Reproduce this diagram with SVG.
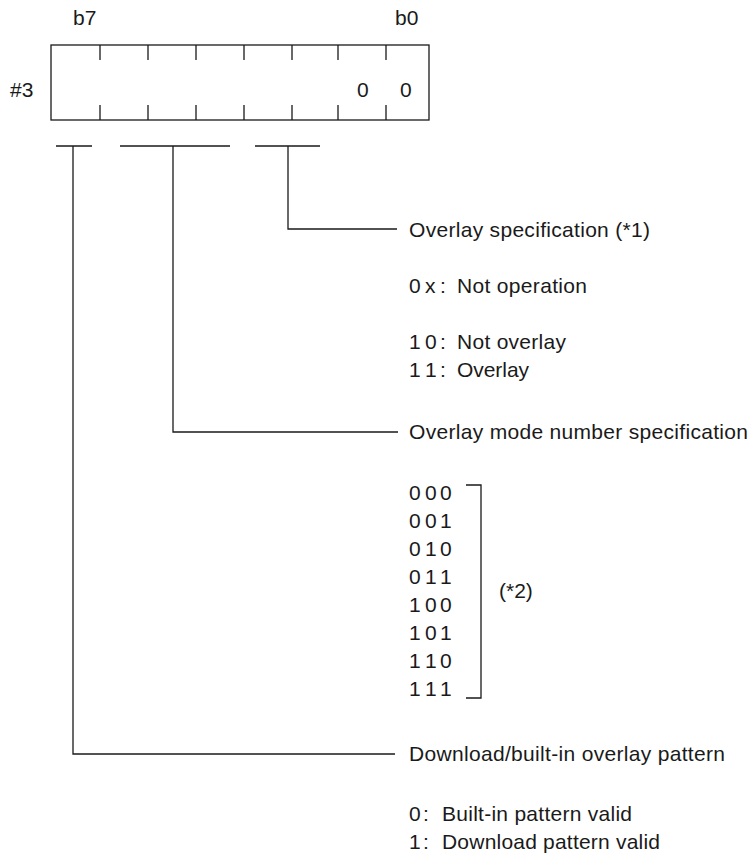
<svg xmlns="http://www.w3.org/2000/svg" width="751" height="857" viewBox="0 0 751 857">
<style>
  text { font-family: "Liberation Sans", Arial, sans-serif; font-size: 21px; fill: #1a1a1a; }
  .ln { stroke: #1a1a1a; stroke-width: 1.3; fill: none; }
</style>
<rect width="751" height="857" fill="#ffffff"/>
<g id="register">
  <text x="73" y="25">b7</text>
  <text x="395" y="25">b0</text>
  <text x="10" y="97">#3</text>
  <rect class="ln" x="51" y="45" width="378" height="75"/>
  <path class="ln" d="M100 45V60M148 45V60M196 45V60M244 45V60M292 45V60M338 45V60M386 45V60M100 105V120M148 105V120M196 105V120M244 105V120M292 105V120M338 105V120M386 105V120"/>
  <text x="357" y="97">0</text>
  <text x="400" y="97">0</text>
</g>
<g id="connectors">
  <path class="ln" d="M56 146H92M73 146V754H395"/>
  <path class="ln" d="M120 146H230M173 146V432H398"/>
  <path class="ln" d="M255 146H320M288 146V229H397"/>
  <path class="ln" d="M466 485H481V698H466"/>
</g>
<g id="overlay-spec">
  <text x="409" y="237" textLength="241" lengthAdjust="spacing">Overlay specification (*1)</text>
  <text x="409 425 440" y="293">0x:</text>
  <text x="457" y="293" textLength="130" lengthAdjust="spacing">Not operation</text>
  <text x="409 425 440" y="349">10:</text>
  <text x="457" y="349" textLength="109" lengthAdjust="spacing">Not overlay</text>
  <text x="409 425 440" y="377">11:</text>
  <text x="457" y="377" textLength="72" lengthAdjust="spacing">Overlay</text>
</g>
<g id="mode-number">
  <text x="409" y="439" textLength="339" lengthAdjust="spacing">Overlay mode number specification</text>
  <text x="409 425 440" y="500">000</text>
  <text x="409 425 440" y="528">001</text>
  <text x="409 425 440" y="556">010</text>
  <text x="409 425 440" y="584">011</text>
  <text x="409 425 440" y="612">100</text>
  <text x="409 425 440" y="640">101</text>
  <text x="409 425 440" y="668">110</text>
  <text x="409 425 440" y="696">111</text>
  <text x="499" y="598">(*2)</text>
</g>
<g id="download-pattern">
  <text x="409" y="761" textLength="316" lengthAdjust="spacing">Download/built-in overlay pattern</text>
  <text x="409 423" y="821">0:</text>
  <text x="442" y="821" textLength="190" lengthAdjust="spacing">Built-in pattern valid</text>
  <text x="409 423" y="849">1:</text>
  <text x="442" y="849" textLength="218" lengthAdjust="spacing">Download pattern valid</text>
</g>
</svg>
